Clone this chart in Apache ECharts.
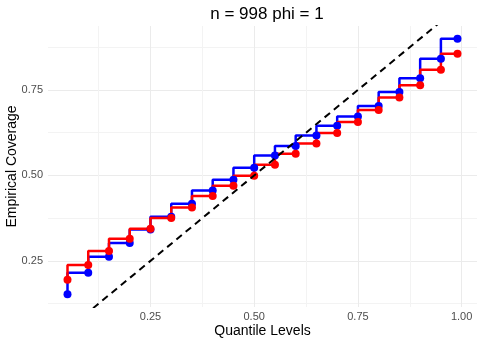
<!DOCTYPE html>
<html>
<head>
<meta charset="utf-8">
<script src="https://cdn.jsdelivr.net/npm/echarts@6/dist/echarts.min.js"></script>
<style>
  html, body { margin: 0; padding: 0; background: #fff; }
  #chart { width: 482px; height: 344px; }
</style>
</head>
<body>
<div id="chart"></div>
<script>
// quantile levels on the x axis
var quantileLevels = [0.05, 0.10, 0.15, 0.20, 0.25, 0.30, 0.35, 0.40, 0.45, 0.50,
  0.55, 0.60, 0.65, 0.70, 0.75, 0.80, 0.85, 0.90, 0.95, 0.99]
// empirical coverage, blue series
var blueCoverage = [0.152, 0.215, 0.262, 0.302, 0.342, 0.379, 0.417, 0.456, 0.487, 0.522,
  0.558, 0.586, 0.617, 0.645, 0.672, 0.703, 0.744, 0.784, 0.841, 0.900]
// empirical coverage, red series
var redCoverage = [0.195, 0.238, 0.279, 0.315, 0.344, 0.375, 0.406, 0.440, 0.470, 0.499,
  0.531, 0.563, 0.593, 0.624, 0.656, 0.691, 0.728, 0.764, 0.809, 0.856]
// y = x reference line
var diagonal = [0, 1.2]

var xTicks = [0.25, 0.50, 0.75, 1.00]
var yTicks = [0.25, 0.50, 0.75]
var xGrid = [0.125, 0.25, 0.375, 0.5, 0.625, 0.75, 0.875, 1.0]
var yGrid = [0.125, 0.25, 0.375, 0.5, 0.625, 0.75, 0.875]

var chart = echarts.init(document.getElementById('chart'))

function pairs(xs, ys) {
  return xs.map(function(x, i) { return [x, ys[i]] })
}

var labelStyle = { color: '#4D4D4D', fontSize: 11, fontFamily: 'Liberation Sans' }

chart.setOption({
  animation: false,
  title: {
    text: 'n = 998 phi = 1',
    left: 262,
    top: 1,
    textAlign: 'center',
    textStyle: { color: '#000', fontSize: 17, fontWeight: 'normal', fontFamily: 'Liberation Sans' }
  },
  grid: { left: 48, right: 5, top: 26, bottom: 37, outerBoundsMode: 'none', containLabel: false },
  xAxis: {
    type: 'value',
    min: 0.003,
    max: 1.037,
    name: 'Quantile Levels',
    nameLocation: 'middle',
    nameGap: 17,
    nameMoveOverlap: false,
    nameTextStyle: { color: '#000', fontSize: 14, fontFamily: 'Liberation Sans' },
    axisLine: { show: false },
    axisTick: { show: false, customValues: xGrid },
    axisLabel: {
      customValues: xTicks,
      margin: 4,
      formatter: function(v) { return v.toFixed(2) },
      ...labelStyle
    },
    splitLine: { show: true, lineStyle: { color: ['#F3F3F3', '#EBEBEB'], width: 1 } }
  },
  yAxis: {
    type: 'value',
    min: 0.115,
    max: 0.937,
    name: 'Empirical Coverage',
    nameLocation: 'middle',
    nameGap: 29,
    nameMoveOverlap: false,
    nameTextStyle: { color: '#000', fontSize: 14, fontFamily: 'Liberation Sans' },
    axisLine: { show: false },
    axisTick: { show: false, customValues: yGrid },
    axisLabel: {
      customValues: yTicks,
      margin: 5,
      formatter: function(v) { return v.toFixed(2) },
      ...labelStyle
    },
    splitLine: { show: true, lineStyle: { color: ['#F3F3F3', '#EBEBEB'], width: 1 } }
  },
  series: [{
    name: 'blue',
    type: 'line',
    step: 'start',
    data: pairs(quantileLevels, blueCoverage),
    symbol: 'circle',
    symbolSize: 8,
    itemStyle: { color: '#0000FF' },
    lineStyle: { color: '#0000FF', width: 2.5 }
  }, {
    name: 'red',
    type: 'line',
    step: 'start',
    data: pairs(quantileLevels, redCoverage),
    symbol: 'circle',
    symbolSize: 8,
    itemStyle: { color: '#FF0000' },
    lineStyle: { color: '#FF0000', width: 2.5 }
  }, {
    name: 'y = x',
    type: 'line',
    data: pairs(diagonal, diagonal),
    symbol: 'none',
    clip: true,
    z: 5,
    lineStyle: { color: '#000', width: 2, type: [7, 5] }
  }]
})
</script>
</body>
</html>
